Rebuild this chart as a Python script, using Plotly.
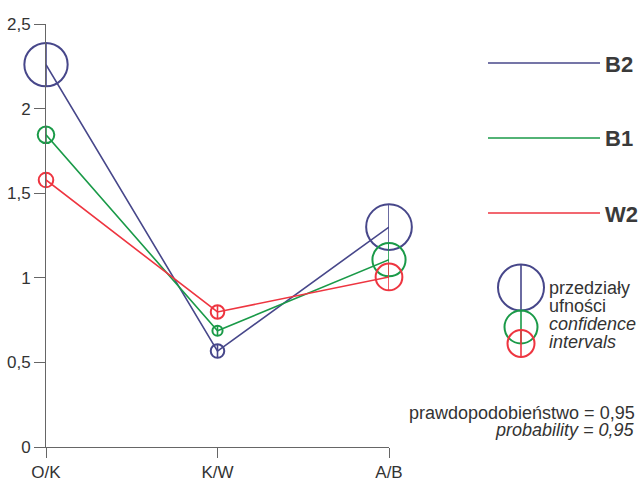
import plotly.graph_objects as go

# ---- data ----
categories = ["O/K", "K/W", "A/B"]
series_names = ["B2", "B1", "W2"]
b2_values = [2.26, 0.567, 1.30]
b1_values = [1.845, 0.687, 1.107]
w2_values = [1.578, 0.798, 1.005]
# confidence interval half-widths (radius of circles, in y units)
b2_ci = [0.128, 0.040, 0.135]
b1_ci = [0.049, 0.030, 0.098]
w2_ci = [0.043, 0.040, 0.079]
y_tickvals = [0, 0.5, 1, 1.5, 2, 2.5]
y_ticktext = ["0", "0,5", "1", "1,5", "2", "2,5"]

colors = {"B2": "#47478a", "B1": "#1a9a48", "W2": "#ee3540"}

# ---- layout geometry ----
W, H = 638, 479
ML = 46
MT = 24
MR = W - 389
MB = H - 447
plot_w = W - ML - MR
plot_h = H - MT - MB
y_range = [0, 2.5]
px_per_unit = plot_h / (y_range[1] - y_range[0])

def px_x(px):
    return (px - ML) / plot_w

def px_y(py):
    return (H - MB - py) / plot_h

FONT = "Liberation Sans, Arial, sans-serif"

fig = go.Figure()

data = [("B2", b2_values, b2_ci), ("B1", b1_values, b1_ci), ("W2", w2_values, w2_ci)]
for name, vals, ci in data:
    c = colors[name]
    fig.add_trace(go.Scatter(
        x=list(range(len(categories))), y=vals, name=name,
        mode="lines+markers",
        line=dict(color=c, width=1.6),
        marker=dict(symbol="circle-open", color=c, opacity=1,
                    size=[2 * v * px_per_unit for v in ci],
                    line=dict(color=c, width=2)),
        error_y=dict(type="data", array=ci, visible=True, width=0,
                     thickness=1.6, color=c),
        cliponaxis=False, showlegend=False, hoverinfo="skip",
    ))

fig.update_layout(
    width=W, height=H,
    margin=dict(l=ML, r=MR, t=MT, b=MB, pad=0, autoexpand=False),
    paper_bgcolor="white", plot_bgcolor="white",
    font=dict(family=FONT, size=17, color="#333333"),
    xaxis=dict(range=[0, 2], tickvals=list(range(len(categories))), ticktext=categories,
               showgrid=False, zeroline=False, showline=True, linecolor="#666666",
               linewidth=1, ticks="outside", ticklen=10, tickcolor="#666666",
               automargin=False,
               tickfont=dict(family=FONT, size=17, color="#333333")),
    yaxis=dict(range=y_range, tickvals=y_tickvals, ticktext=y_ticktext,
               showgrid=False, zeroline=False, showline=True, linecolor="#666666",
               linewidth=1, ticks="outside", ticklen=11, tickcolor="#666666",
               automargin=False,
               tickfont=dict(family=FONT, size=17, color="#333333")),
)

# ---- custom legend (series lines + labels) ----
legend_y = {"B2": 63, "B1": 138, "W2": 213}
for name in series_names:
    yy = px_y(legend_y[name])
    fig.add_shape(type="line", xref="paper", yref="paper",
                  x0=px_x(488), x1=px_x(600), y0=yy, y1=yy,
                  line=dict(color=colors[name], width=1.6))
    fig.add_annotation(xref="paper", yref="paper", x=px_x(603), y=px_y(legend_y[name] + 1),
                       xanchor="left", yanchor="middle", showarrow=False,
                       text="<b>%s</b>" % name,
                       font=dict(family=FONT, size=22, color="#3a3a3a"))

# ---- confidence interval legend ----
ci_legend = [("B2", 521, 287.5, 23), ("B1", 521, 327, 16.5), ("W2", 521, 343.5, 13.5)]
for name, cx, cy, r in ci_legend:
    c = colors[name]
    fig.add_shape(type="circle", xref="paper", yref="paper",
                  xsizemode="pixel", ysizemode="pixel",
                  xanchor=px_x(cx), yanchor=px_y(cy),
                  x0=-r, x1=r, y0=-r, y1=r,
                  line=dict(color=c, width=2))
    fig.add_shape(type="line", xref="paper", yref="paper",
                  xsizemode="pixel", ysizemode="pixel",
                  xanchor=px_x(cx), yanchor=px_y(cy),
                  x0=0, x1=0, y0=-r, y1=r,
                  line=dict(color=c, width=1.6))

ci_text = [("przedziały", 288), ("ufności", 306), ("<i>confidence</i>", 324), ("<i>intervals</i>", 342)]
for t, yy in ci_text:
    fig.add_annotation(xref="paper", yref="paper", x=px_x(547), y=px_y(yy),
                       xanchor="left", yanchor="middle", showarrow=False,
                       text=t, font=dict(family=FONT, size=18, color="#333333"))

prob_text = [("prawdopodobieństwo = 0,95", 413), ("<i>probability = 0,95</i>", 430)]
for t, yy in prob_text:
    fig.add_annotation(xref="paper", yref="paper", x=px_x(637), y=px_y(yy),
                       xanchor="right", yanchor="middle", showarrow=False,
                       text=t, font=dict(family=FONT, size=18, color="#333333"))

fig.write_html("out.html",
               config={"displayModeBar": False},
               post_script="document.body.style.margin='0px';document.body.style.overflow='hidden';")
